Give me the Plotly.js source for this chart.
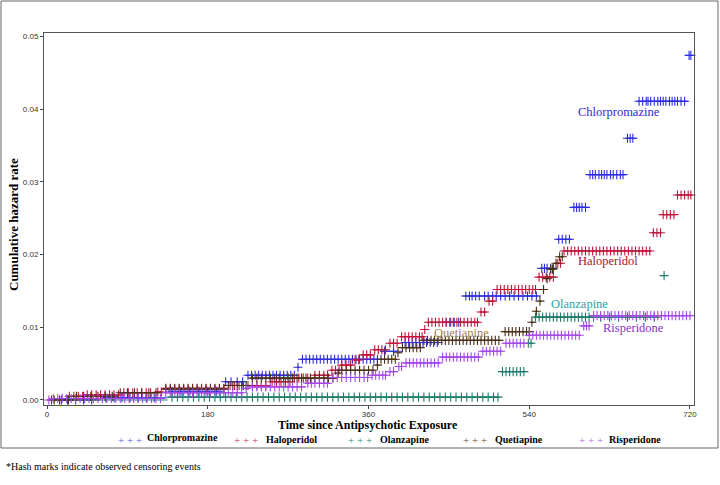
<!DOCTYPE html>
<html><head><meta charset="utf-8">
<script src="https://cdn.plot.ly/plotly-3.0.1.min.js"></script>
<style>html,body{margin:0;padding:0;background:#fff}#chart{width:720px;height:485px}</style>
</head><body><div id="chart"></div>
<script>
// ---- Data ----
const seriesNames = ["Chlorpromazine","Haloperidol","Olanzapine","Quetiapine","Risperidone"];
const xTicks = [0,180,360,540,720];
const yTicks = [0,0.01,0.02,0.03,0.04,0.05];

// step times (event times) and cumulative hazard levels
const chlorT = [0,60,135,198,222,280,283,373,398,443,465,552,570,588,606,648,660,718];
const chlorV = [0,0.0003,0.0012,0.0025,0.0034,0.0045,0.0056,0.0067,0.0079,0.0107,0.0143,0.0181,0.0221,0.0265,0.031,0.036,0.0411,0.0474];
const chlorEnd = 721;
const chlorCens = [5,14,23,32,41,50,66,75,84,93,102,111,120,140,150,160,170,180,190,200,206,213,219,225,229,233,237,241,245,249,253,257,261,265,269,273,277,281,286,290,294,298,302,306,310,314,318,322,326,330,334,338,342,346,350,354,358,362,366,370,378,388,401,405,409,413,417,421,425,429,433,437,447,452,456,461,469,473,476,480,484,490,494,499,503,508,513,518,523,528,533,538,543,548,554,557,560,564,567,573,577,581,585,590,593,596,599,603,608,611,614,618,621,624,627,631,634,638,642,645,650,653,656,663,667,671,673,676,680,684,687,690,693,697,700,703,706,710,714,719,721];

const haloT = [0,23,43,84,121,130,203,250,275,298,317,328,343,352,365,382,395,422,425,484,493,502,549,570,577,677,688,704];
const haloV = [0,0.0005,0.0007,0.001,0.0011,0.0016,0.002,0.0025,0.003,0.0034,0.0041,0.0048,0.0055,0.0062,0.0069,0.0078,0.0087,0.0097,0.0107,0.0121,0.0136,0.0152,0.0169,0.0188,0.0205,0.023,0.0255,0.0282];
const haloEnd = 722;
const haloCens = [25,30,35,40,45,50,55,60,65,70,75,80,86,91,96,101,106,111,116,124,128,133,138,143,148,153,158,163,168,173,178,183,188,193,198,205,210,215,220,225,230,235,240,245,252,257,262,267,272,277,282,287,292,300,305,310,314,319,323,327,330,335,340,345,349,354,358,362,367,371,375,379,384,388,392,397,401,405,409,413,417,420,423,427,431,435,439,443,447,451,455,459,463,467,471,475,479,482,486,490,495,499,504,508,512,516,520,524,528,532,536,540,544,547,551,555,559,563,567,572,575,579,583,587,591,595,599,603,607,611,615,619,623,627,631,635,639,643,647,651,655,659,663,667,671,675,679,683,687,690,694,698,702,706,710,714,718,721];

const olanT = [0,135,507,538,545,688];
const olanV = [0,0.0004,0.0039,0.0078,0.0114,0.0171];
const olanEnd = 691;
const olanCens = [140,146,152,158,164,170,176,182,188,194,200,206,212,218,224,230,236,242,248,254,260,266,272,278,284,290,296,302,308,314,320,326,332,338,344,350,356,362,368,374,380,386,392,398,404,410,416,422,428,434,440,446,452,458,464,470,476,482,488,494,500,505,510,514,518,522,526,530,534,539,542,547,551,555,559,563,567,571,575,579,583,587,591,595,599,603,607,612,620,630,640,650,660,670,680,691];

const quetT = [0,30,80,130,200,227,324,327,368,372,392,396,419,510,541,546,550,554,559,562,568,572];
const quetV = [0,0.0005,0.001,0.0015,0.002,0.003,0.0037,0.0041,0.0048,0.0056,0.0065,0.0072,0.0082,0.0094,0.0107,0.0122,0.0136,0.0152,0.0167,0.018,0.0188,0.0197];
const quetEnd = 577;
const quetCens = [8,16,24,33,41,49,57,65,73,82,90,98,106,114,122,133,138,143,148,153,158,163,168,173,178,183,188,193,198,203,208,213,218,223,230,235,240,245,250,255,260,265,270,275,280,285,290,295,300,305,310,315,320,326,330,335,340,345,350,355,360,365,370,374,378,382,386,390,393,398,402,406,410,414,418,422,426,430,434,438,442,446,450,454,458,462,466,470,474,478,482,486,490,494,498,502,506,513,517,521,525,529,533,537,540,543,548,552,556,560,564,566,570,574,577];

const rispT = [0,5,130,220,227,289,317,362,381,392,399,440,485,511,537,598,610];
const rispV = [0,0.0002,0.001,0.0016,0.0018,0.0023,0.0031,0.0034,0.0039,0.0046,0.0051,0.0059,0.0067,0.0078,0.0089,0.0102,0.0116];
const rispEnd = 722;
const rispCens = [2,7,12,17,22,27,32,37,42,47,52,57,62,67,72,77,82,87,92,97,102,107,112,117,122,127,133,138,143,148,153,158,163,168,173,178,183,188,193,198,203,208,213,218,223,230,235,240,245,250,255,260,265,270,275,280,285,292,296,300,305,310,314,320,325,330,335,340,345,350,355,359,364,368,372,376,379,384,388,394,397,402,406,410,414,418,422,426,430,434,438,443,447,451,455,459,463,467,471,475,479,483,488,492,496,500,504,508,514,518,522,526,530,534,540,544,548,552,556,560,564,568,572,576,580,584,588,592,596,601,604,607,612,616,620,624,628,632,636,640,644,648,652,656,660,664,668,672,676,680,684,688,692,696,700,704,708,712,716,720];

// ---- styling ----
const markColors = ["#2d2de0","#c0143c","#1d7a6a","#4a3018","#a448e8"];
const labelColors = ["#2b2bd0","#a3141e","#1fa3a0","#a08052","#8a30c4"];
const legendMarkColors = ["#5a5ae8","#cc3355","#2a8a7a","#6e5030","#b466e8"];

const series = [
  {T:chlorT,V:chlorV,end:chlorEnd,C:chlorCens},
  {T:haloT,V:haloV,end:haloEnd,C:haloCens},
  {T:olanT,V:olanV,end:olanEnd,C:olanCens},
  {T:quetT,V:quetV,end:quetEnd,C:quetCens},
  {T:rispT,V:rispV,end:rispEnd,C:rispCens}
];

function levelAt(T,V,t){let v=V[0];for(let i=0;i<T.length;i++){if(T[i]<=t)v=V[i];}return v;}

const traces=[];
series.forEach((s,k)=>{
  const lx=[],ly=[];
  for(let i=0;i<s.T.length;i++){
    const x1 = i<s.T.length-1 ? s.T[i+1] : s.end;
    lx.push(s.T[i],x1,null); ly.push(s.V[i],s.V[i],null);
  }
  traces.push({type:"scatter",mode:"lines",x:lx,y:ly,line:{color:markColors[k],width:1},hoverinfo:"skip",showlegend:false,cliponaxis:false});
  traces.push({type:"scatter",mode:"markers",x:s.C,y:s.C.map(t=>levelAt(s.T,s.V,t)),
    marker:{symbol:"cross-thin-open",size:6.5,line:{color:markColors[k],width:1.1},color:markColors[k]},
    name:seriesNames[k],showlegend:false,cliponaxis:false});
});

// layout geometry
const L=44,R=26,T=33,B=80,W=720,H=485;
const pw=W-L-R, ph=H-T-B;
const px2x=p=>(p-L)/pw, py2y=p=>(H-B-p)/ph;

const serif="Liberation Serif, Times New Roman, serif";
const annotations=[];
// in-plot labels
const labelPos=[[641,0.0396],[628,0.0191],[596,0.0132],[464,0.0092],[657,0.0099]];
seriesNames.forEach((n,k)=>{
  annotations.push({x:labelPos[k][0],y:labelPos[k][1],xref:"x",yref:"y",xanchor:"center",yanchor:"middle",text:n,showarrow:false,
    font:{family:serif,size:12.5,color:labelColors[k]}});
});
// axis titles
annotations.push({x:px2x(368),y:py2y(425),xref:"paper",yref:"paper",xanchor:"center",yanchor:"middle",text:"<b>Time since Antipsychotic Exposure</b>",showarrow:false,
  font:{family:serif,size:12,color:"#000"}});
annotations.push({x:px2x(13),y:py2y(225),xref:"paper",yref:"paper",xanchor:"center",yanchor:"middle",text:"<b>Cumulative hazard rate</b>",textangle:-90,showarrow:false,
  font:{family:serif,size:13,color:"#000"}});
// legend
const legPlus=[116,232,346,461,577];
const legText=[145,264,378,493,607];
seriesNames.forEach((n,k)=>{
  annotations.push({x:px2x(legPlus[k]),y:py2y(440),xref:"paper",yref:"paper",xanchor:"left",yanchor:"middle",text:"+ + +",showarrow:false,
    font:{family:serif,size:11,color:legendMarkColors[k]}});
  annotations.push({x:px2x(legText[k]),y:py2y(k===0?437:440),xref:"paper",yref:"paper",xanchor:"left",yanchor:"middle",text:"<b>"+n+"</b>",showarrow:false,
    font:{family:serif,size:10,color:"#000"}});
});
// footnote
annotations.push({x:px2x(4),y:py2y(466),xref:"paper",yref:"paper",xanchor:"left",yanchor:"middle",text:"*Hash marks indicate observed censoring events",showarrow:false,
  font:{family:serif,size:10,color:"#000"}});

const layout={
  width:W,height:H,margin:{l:L,r:R,t:T,b:B},
  paper_bgcolor:"#fff",plot_bgcolor:"#fff",
  showlegend:false,
  xaxis:{range:[-3.4,724.5],tickvals:xTicks,ticktext:xTicks.map(String),ticks:"outside",ticklen:3,tickcolor:"#444",ticklabelstandoff:-2,
    showgrid:false,zeroline:false,showline:true,linecolor:"#555",linewidth:1,mirror:true,
    tickfont:{family:"Arial, Liberation Sans, sans-serif",size:8,color:"#333"}},
  yaxis:{range:[-0.00069,0.05048],tickvals:yTicks,ticktext:yTicks.map(v=>v.toFixed(2)),ticks:"outside",ticklen:3,tickcolor:"#444",
    showgrid:false,zeroline:false,showline:true,linecolor:"#555",linewidth:1,mirror:true,
    tickfont:{family:"Arial, Liberation Sans, sans-serif",size:8,color:"#333"}},
  annotations:annotations,
  shapes:[{type:"rect",xref:"paper",yref:"paper",x0:px2x(1),x1:px2x(718),y0:py2y(448),y1:py2y(1),line:{color:"#666",width:1},fillcolor:"rgba(0,0,0,0)"}]
};
Plotly.newPlot("chart",traces,layout,{staticPlot:true});
</script></body></html>
